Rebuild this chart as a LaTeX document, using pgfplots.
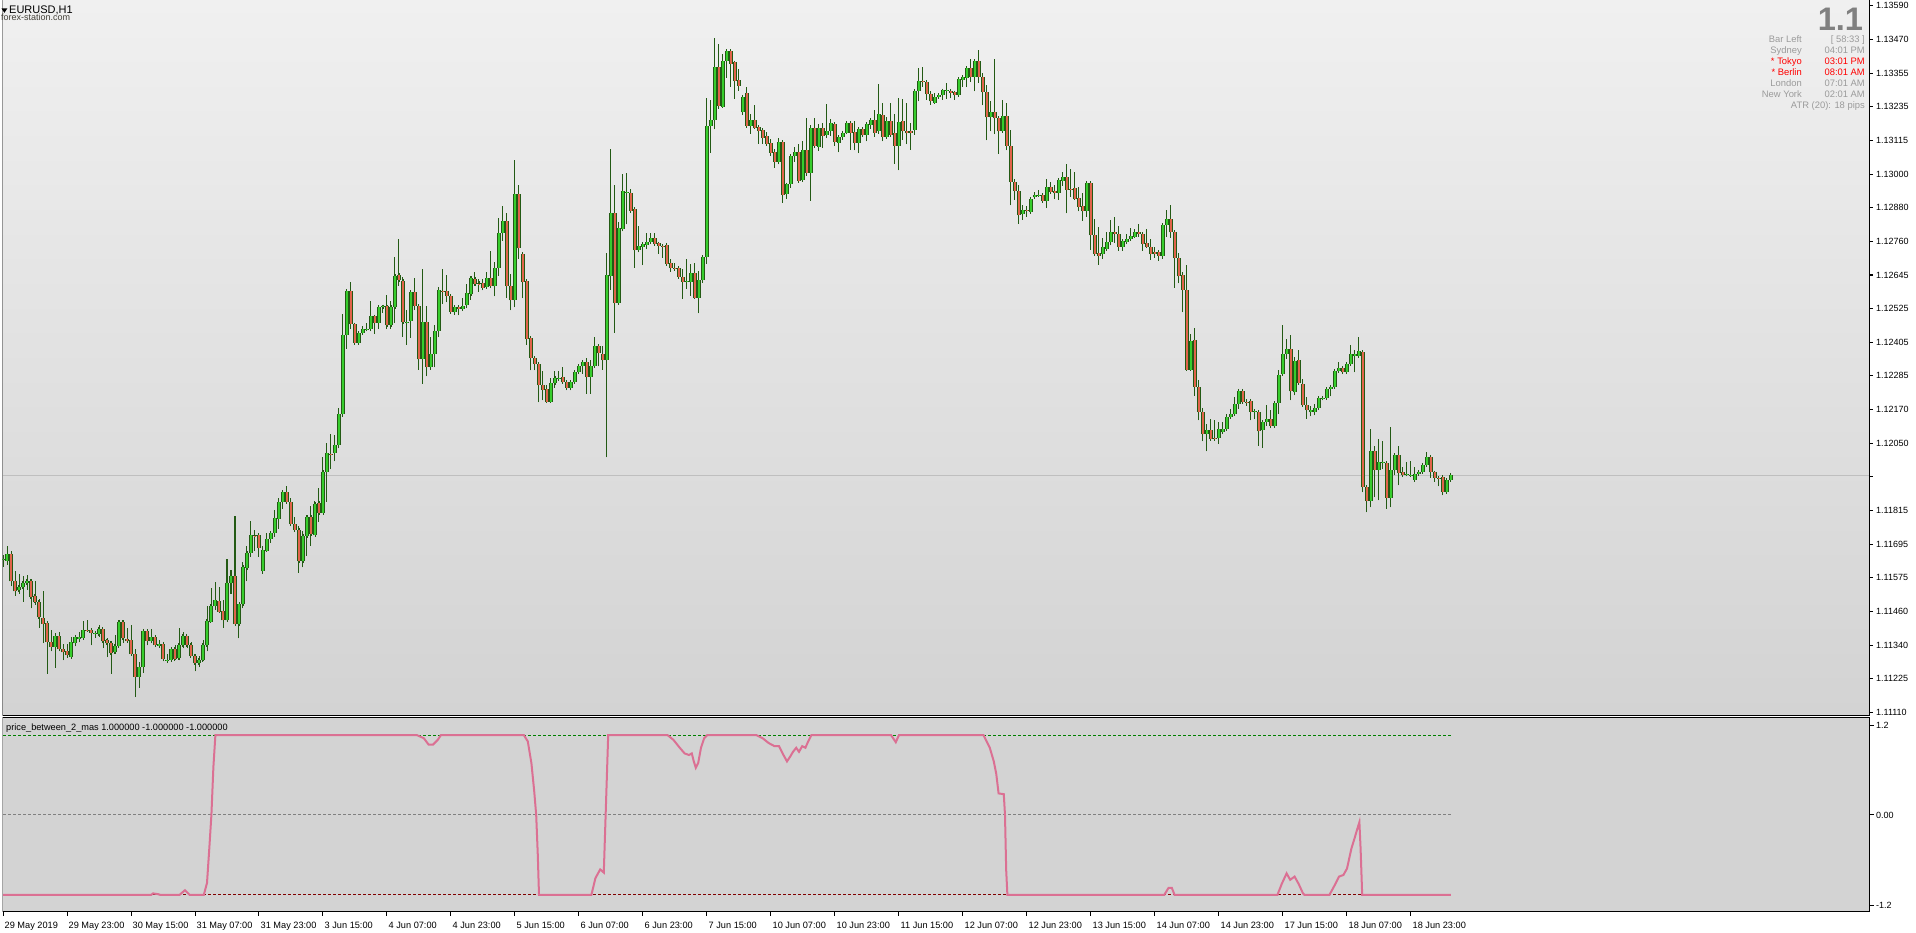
\documentclass[border=0pt]{standalone}
\usepackage{pgfplots}
\pgfplotsset{compat=1.18}
\usepackage{pgfplotstable}
\usepackage{fontspec}
\setmainfont{Liberation Sans}

\definecolor{cdark}{RGB}{35,90,20}
\definecolor{cbull}{RGB}{55,205,45}
\definecolor{cbear}{RGB}{225,100,75}
\definecolor{bgtop}{RGB}{240,240,240}
\definecolor{bgbot}{RGB}{211,211,211}
\definecolor{indbg}{RGB}{211,211,211}
\definecolor{cind}{RGB}{219,112,147}
\definecolor{infogray}{RGB}{155,155,155}
\definecolor{biggray}{RGB}{128,128,128}
\definecolor{lvgreen}{RGB}{0,128,0}
\definecolor{lvred}{RGB}{128,0,0}
\definecolor{lvgray}{RGB}{128,128,128}

\pgfplotstableread{
i o h l c
0 1.11646 1.11663 1.11622 1.11650
1 1.11643 1.11695 1.11628 1.11667
2 1.11667 1.11675 1.11552 1.11570
3 1.11572 1.11607 1.11519 1.11535
4 1.11538 1.11596 1.11526 1.11550
5 1.11549 1.11589 1.11499 1.11564
6 1.11564 1.11593 1.11540 1.11572
7 1.11572 1.11578 1.11475 1.11515
8 1.11518 1.11572 1.11488 1.11499
9 1.11498 1.11508 1.11406 1.11444
10 1.11442 1.11537 1.11353 1.11422
11 1.11425 1.11432 1.11245 1.11357
12 1.11358 1.11400 1.11324 1.11339
13 1.11339 1.11388 1.11266 1.11379
14 1.11379 1.11393 1.11324 1.11332
15 1.11332 1.11351 1.11293 1.11321
16 1.11325 1.11351 1.11301 1.11311
17 1.11304 1.11373 1.11304 1.11357
18 1.11353 1.11381 1.11342 1.11376
19 1.11366 1.11391 1.11356 1.11376
20 1.11371 1.11432 1.11367 1.11399
21 1.11399 1.11435 1.11394 1.11398
22 1.11399 1.11408 1.11345 1.11388
23 1.11385 1.11394 1.11371 1.11388
24 1.11385 1.11416 1.11374 1.11402
25 1.11402 1.11402 1.11336 1.11359
26 1.11363 1.11371 1.11304 1.11353
27 1.11353 1.11360 1.11245 1.11318
28 1.11321 1.11383 1.11315 1.11344
29 1.11342 1.11435 1.11342 1.11427
30 1.11427 1.11435 1.11353 1.11371
31 1.11369 1.11406 1.11356 1.11359
32 1.11364 1.11418 1.11312 1.11315
33 1.11315 1.11333 1.11164 1.11236
34 1.11236 1.11286 1.11196 1.11269
35 1.11269 1.11402 1.11250 1.11397
36 1.11395 1.11397 1.11345 1.11360
37 1.11359 1.11404 1.11353 1.11374
38 1.11374 1.11379 1.11342 1.11346
39 1.11344 1.11365 1.11339 1.11350
40 1.11351 1.11353 1.11289 1.11297
41 1.11292 1.11316 1.11283 1.11293
42 1.11294 1.11332 1.11291 1.11332
43 1.11332 1.11346 1.11295 1.11297
44 1.11300 1.11407 1.11293 1.11346
45 1.11346 1.11391 1.11335 1.11379
46 1.11379 1.11379 1.11335 1.11346
47 1.11346 1.11358 1.11307 1.11308
48 1.11309 1.11316 1.11254 1.11283
49 1.11283 1.11309 1.11269 1.11294
50 1.11293 1.11365 1.11289 1.11346
51 1.11345 1.11484 1.11324 1.11432
52 1.11429 1.11546 1.11427 1.11484
53 1.11482 1.11569 1.11470 1.11505
54 1.11502 1.11550 1.11464 1.11464
55 1.11467 1.11505 1.11408 1.11433
56 1.11433 1.11649 1.11433 1.11564
57 1.11564 1.11611 1.11525 1.11590
58 1.11590 1.11800 1.11420 1.11420
59 1.11420 1.11490 1.11370 1.11490
60 1.11490 1.11639 1.11475 1.11620
61 1.11617 1.11695 1.11570 1.11669
62 1.11669 1.11783 1.11657 1.11733
63 1.11730 1.11751 1.11678 1.11729
64 1.11733 1.11733 1.11657 1.11687
65 1.11605 1.11695 1.11597 1.11681
66 1.11678 1.11739 1.11678 1.11718
67 1.11718 1.11745 1.11706 1.11739
68 1.11739 1.11821 1.11727 1.11792
69 1.11788 1.11862 1.11754 1.11848
70 1.11848 1.11883 1.11825 1.11883
71 1.11883 1.11903 1.11844 1.11848
72 1.11848 1.11862 1.11763 1.11771
73 1.11771 1.11795 1.11743 1.11751
74 1.11751 1.11765 1.11601 1.11640
75 1.11640 1.11747 1.11619 1.11730
76 1.11730 1.11804 1.11660 1.11795
77 1.11795 1.11835 1.11695 1.11736
78 1.11732 1.11853 1.11732 1.11842
79 1.11844 1.11899 1.11780 1.11809
80 1.11809 1.12005 1.11809 1.11953
81 1.11953 1.12057 1.11850 1.12020
82 1.12017 1.12088 1.11964 1.12015
83 1.12020 1.12084 1.11991 1.12048
84 1.12048 1.12179 1.12037 1.12157
85 1.12157 1.12508 1.12148 1.12434
86 1.12434 1.12596 1.12387 1.12589
87 1.12589 1.12621 1.12455 1.12472
88 1.12472 1.12472 1.12401 1.12408
89 1.12406 1.12447 1.12403 1.12441
90 1.12441 1.12466 1.12436 1.12456
91 1.12455 1.12476 1.12447 1.12456
92 1.12455 1.12554 1.12447 1.12500
93 1.12500 1.12505 1.12438 1.12476
94 1.12476 1.12540 1.12455 1.12532
95 1.12532 1.12540 1.12513 1.12535
96 1.12535 1.12575 1.12455 1.12468
97 1.12468 1.12554 1.12455 1.12532
98 1.12532 1.12708 1.12476 1.12641
99 1.12644 1.12771 1.12608 1.12628
100 1.12625 1.12639 1.12429 1.12479
101 1.12479 1.12522 1.12401 1.12480
102 1.12482 1.12593 1.12425 1.12584
103 1.12584 1.12635 1.12522 1.12535
104 1.12535 1.12544 1.12312 1.12349
105 1.12350 1.12667 1.12263 1.12480
106 1.12480 1.12535 1.12289 1.12321
107 1.12321 1.12429 1.12312 1.12367
108 1.12367 1.12470 1.12321 1.12448
109 1.12448 1.12603 1.12427 1.12592
110 1.12588 1.12667 1.12543 1.12587
111 1.12588 1.12646 1.12549 1.12570
112 1.12572 1.12575 1.12514 1.12516
113 1.12515 1.12540 1.12505 1.12532
114 1.12532 1.12540 1.12503 1.12525
115 1.12525 1.12565 1.12521 1.12536
116 1.12538 1.12614 1.12528 1.12581
117 1.12578 1.12642 1.12559 1.12635
118 1.12630 1.12656 1.12608 1.12614
119 1.12615 1.12630 1.12587 1.12614
120 1.12616 1.12630 1.12591 1.12601
121 1.12602 1.12656 1.12601 1.12635
122 1.12635 1.12730 1.12599 1.12605
123 1.12605 1.12692 1.12570 1.12669
124 1.12669 1.12844 1.12643 1.12792
125 1.12792 1.12888 1.12766 1.12835
126 1.12835 1.12862 1.12566 1.12605
127 1.12607 1.12649 1.12521 1.12556
128 1.12556 1.13049 1.12531 1.12930
129 1.12930 1.12961 1.12701 1.12738
130 1.12718 1.12718 1.12563 1.12620
131 1.12623 1.12630 1.12400 1.12422
132 1.12423 1.12423 1.12310 1.12352
133 1.12353 1.12362 1.12310 1.12332
134 1.12332 1.12339 1.12198 1.12258
135 1.12259 1.12309 1.12205 1.12243
136 1.12245 1.12259 1.12198 1.12201
137 1.12201 1.12283 1.12201 1.12266
138 1.12266 1.12309 1.12250 1.12283
139 1.12284 1.12309 1.12274 1.12285
140 1.12287 1.12322 1.12266 1.12268
141 1.12269 1.12275 1.12240 1.12250
142 1.12250 1.12277 1.12240 1.12269
143 1.12269 1.12312 1.12263 1.12304
144 1.12304 1.12333 1.12297 1.12326
145 1.12324 1.12347 1.12298 1.12340
146 1.12340 1.12353 1.12228 1.12287
147 1.12287 1.12347 1.12228 1.12324
148 1.12324 1.12428 1.12318 1.12395
149 1.12395 1.12395 1.12324 1.12370
150 1.12369 1.12397 1.12312 1.12346
151 1.12346 1.12722 1.12005 1.12644
152 1.12640 1.13087 1.12593 1.12862
153 1.12862 1.12961 1.12443 1.12546
154 1.12546 1.12830 1.12546 1.12809
155 1.12806 1.13001 1.12798 1.12939
156 1.12934 1.13003 1.12823 1.12935
157 1.12932 1.12947 1.12864 1.12871
158 1.12876 1.12876 1.12671 1.12731
159 1.12731 1.12817 1.12724 1.12747
160 1.12745 1.12756 1.12680 1.12753
161 1.12751 1.12791 1.12736 1.12760
162 1.12760 1.12791 1.12753 1.12774
163 1.12774 1.12791 1.12753 1.12753
164 1.12756 1.12762 1.12719 1.12748
165 1.12747 1.12754 1.12706 1.12746
166 1.12751 1.12751 1.12678 1.12685
167 1.12686 1.12700 1.12657 1.12669
168 1.12669 1.12686 1.12660 1.12668
169 1.12669 1.12673 1.12636 1.12639
170 1.12639 1.12666 1.12561 1.12622
171 1.12624 1.12701 1.12596 1.12625
172 1.12622 1.12684 1.12573 1.12651
173 1.12651 1.12687 1.12566 1.12566
174 1.12566 1.12659 1.12510 1.12627
175 1.12627 1.12715 1.12618 1.12707
176 1.12707 1.13265 1.12685 1.13167
177 1.13167 1.13258 1.13074 1.13188
178 1.13188 1.13475 1.13156 1.13374
179 1.13374 1.13455 1.13229 1.13239
180 1.13236 1.13420 1.13232 1.13395
181 1.13395 1.13434 1.13337 1.13431
182 1.13431 1.13438 1.13306 1.13386
183 1.13391 1.13393 1.13263 1.13327
184 1.13329 1.13368 1.13292 1.13309
185 1.13216 1.13274 1.13206 1.13271
186 1.13282 1.13305 1.13167 1.13167
187 1.13169 1.13210 1.13141 1.13189
188 1.13189 1.13241 1.13160 1.13162
189 1.13164 1.13166 1.13105 1.13150
190 1.13153 1.13153 1.13106 1.13127
191 1.13133 1.13146 1.13099 1.13106
192 1.13107 1.13122 1.13064 1.13074
193 1.13077 1.13087 1.13022 1.13043
194 1.13043 1.13125 1.13033 1.13111
195 1.13111 1.13113 1.12899 1.12926
196 1.12928 1.12967 1.12913 1.12963
197 1.12963 1.13066 1.12952 1.13063
198 1.13061 1.13093 1.13043 1.13075
199 1.13077 1.13105 1.12969 1.12975
200 1.12977 1.13115 1.12977 1.13083
201 1.13083 1.13195 1.12994 1.13004
202 1.13004 1.13171 1.12906 1.13160
203 1.13160 1.13195 1.13090 1.13099
204 1.13095 1.13175 1.13081 1.13160
205 1.13160 1.13177 1.13092 1.13134
206 1.13136 1.13244 1.13125 1.13151
207 1.13151 1.13191 1.13134 1.13177
208 1.13174 1.13181 1.13099 1.13111
209 1.13108 1.13137 1.13075 1.13129
210 1.13129 1.13152 1.13119 1.13145
211 1.13145 1.13181 1.13139 1.13178
212 1.13178 1.13186 1.13084 1.13145
213 1.13146 1.13186 1.13082 1.13108
214 1.13108 1.13160 1.13073 1.13157
215 1.13157 1.13161 1.13129 1.13135
216 1.13137 1.13181 1.13114 1.13174
217 1.13172 1.13193 1.13157 1.13189
218 1.13189 1.13225 1.13131 1.13145
219 1.13149 1.13316 1.13140 1.13210
220 1.13207 1.13250 1.13114 1.13129
221 1.13128 1.13198 1.13123 1.13186
222 1.13186 1.13250 1.13131 1.13137
223 1.13143 1.13210 1.13035 1.13099
224 1.13099 1.13267 1.13012 1.13181
225 1.13186 1.13262 1.13119 1.13149
226 1.13151 1.13250 1.13104 1.13142
227 1.13151 1.13180 1.13084 1.13142
228 1.13153 1.13291 1.13137 1.13291
229 1.13291 1.13372 1.13254 1.13325
230 1.13324 1.13375 1.13306 1.13322
231 1.13322 1.13325 1.13260 1.13280
232 1.13280 1.13289 1.13242 1.13254
233 1.13250 1.13283 1.13250 1.13269
234 1.13268 1.13285 1.13263 1.13276
235 1.13276 1.13299 1.13260 1.13293
236 1.13293 1.13320 1.13264 1.13294
237 1.13291 1.13299 1.13265 1.13285
238 1.13286 1.13292 1.13260 1.13275
239 1.13275 1.13341 1.13275 1.13332
240 1.13331 1.13345 1.13306 1.13339
241 1.13336 1.13376 1.13304 1.13371
242 1.13371 1.13403 1.13322 1.13339
243 1.13339 1.13400 1.13289 1.13395
244 1.13395 1.13435 1.13320 1.13339
245 1.13339 1.13353 1.13240 1.13286
246 1.13286 1.13312 1.13117 1.13198
247 1.13198 1.13254 1.13149 1.13216
248 1.13216 1.13403 1.13139 1.13195
249 1.13195 1.13195 1.13071 1.13149
250 1.13149 1.13260 1.13149 1.13202
251 1.13202 1.13248 1.13082 1.13099
252 1.13099 1.13154 1.12889 1.12971
253 1.12971 1.12981 1.12909 1.12940
254 1.12940 1.12960 1.12824 1.12854
255 1.12859 1.12890 1.12839 1.12873
256 1.12872 1.12888 1.12850 1.12871
257 1.12866 1.12915 1.12865 1.12911
258 1.12917 1.12936 1.12912 1.12925
259 1.12925 1.12944 1.12921 1.12926
260 1.12925 1.12932 1.12903 1.12904
261 1.12904 1.12981 1.12880 1.12953
262 1.12953 1.12972 1.12930 1.12938
263 1.12940 1.12961 1.12911 1.12932
264 1.12931 1.12978 1.12909 1.12978
265 1.12976 1.13005 1.12959 1.12988
266 1.12988 1.13035 1.12861 1.12945
267 1.12948 1.13017 1.12920 1.12947
268 1.12950 1.13005 1.12911 1.12913
269 1.12915 1.12955 1.12868 1.12885
270 1.12888 1.12934 1.12836 1.12868
271 1.12871 1.12967 1.12850 1.12967
272 1.12967 1.12967 1.12733 1.12784
273 1.12786 1.12842 1.12712 1.12719
274 1.12722 1.12813 1.12681 1.12713
275 1.12717 1.12774 1.12702 1.12743
276 1.12737 1.12795 1.12731 1.12760
277 1.12760 1.12839 1.12749 1.12795
278 1.12795 1.12848 1.12759 1.12788
279 1.12788 1.12818 1.12730 1.12745
280 1.12745 1.12771 1.12730 1.12765
281 1.12762 1.12789 1.12753 1.12772
282 1.12771 1.12809 1.12766 1.12781
283 1.12780 1.12806 1.12777 1.12795
284 1.12795 1.12825 1.12780 1.12788
285 1.12788 1.12788 1.12730 1.12753
286 1.12757 1.12807 1.12742 1.12745
287 1.12745 1.12771 1.12698 1.12718
288 1.12725 1.12742 1.12706 1.12718
289 1.12725 1.12728 1.12695 1.12712
290 1.12711 1.12823 1.12702 1.12820
291 1.12820 1.12874 1.12778 1.12841
292 1.12841 1.12891 1.12775 1.12795
293 1.12795 1.12795 1.12601 1.12704
294 1.12704 1.12722 1.12616 1.12640
295 1.12644 1.12656 1.12514 1.12593
296 1.12593 1.12681 1.12310 1.12313
297 1.12313 1.12438 1.12313 1.12414
298 1.12417 1.12459 1.12221 1.12252
299 1.12252 1.12277 1.12135 1.12164
300 1.12166 1.12178 1.12061 1.12087
301 1.12087 1.12122 1.12026 1.12102
302 1.12101 1.12139 1.12069 1.12069
303 1.12072 1.12137 1.12069 1.12070
304 1.12072 1.12130 1.12053 1.12104
305 1.12094 1.12129 1.12090 1.12104
306 1.12104 1.12157 1.12104 1.12148
307 1.12147 1.12175 1.12142 1.12157
308 1.12157 1.12217 1.12157 1.12192
309 1.12192 1.12239 1.12175 1.12239
310 1.12239 1.12245 1.12196 1.12198
311 1.12201 1.12211 1.12186 1.12200
312 1.12204 1.12207 1.12135 1.12166
313 1.12166 1.12175 1.12139 1.12167
314 1.12164 1.12169 1.12046 1.12096
315 1.12100 1.12137 1.12038 1.12130
316 1.12128 1.12190 1.12116 1.12140
317 1.12140 1.12172 1.12108 1.12116
318 1.12114 1.12199 1.12108 1.12196
319 1.12196 1.12310 1.12157 1.12294
320 1.12297 1.12470 1.12297 1.12367
321 1.12367 1.12421 1.12350 1.12385
322 1.12385 1.12435 1.12205 1.12237
323 1.12233 1.12356 1.12223 1.12344
324 1.12346 1.12383 1.12260 1.12266
325 1.12264 1.12281 1.12184 1.12188
326 1.12189 1.12217 1.12140 1.12171
327 1.12164 1.12184 1.12149 1.12171
328 1.12164 1.12193 1.12152 1.12178
329 1.12178 1.12217 1.12172 1.12213
330 1.12212 1.12217 1.12205 1.12213
331 1.12213 1.12248 1.12210 1.12245
332 1.12245 1.12260 1.12219 1.12252
333 1.12251 1.12309 1.12246 1.12309
334 1.12307 1.12340 1.12303 1.12318
335 1.12318 1.12327 1.12297 1.12303
336 1.12303 1.12336 1.12297 1.12332
337 1.12332 1.12398 1.12330 1.12369
338 1.12360 1.12383 1.12303 1.12369
339 1.12360 1.12427 1.12357 1.12379
340 1.12375 1.12379 1.11882 1.11900
341 1.11901 1.11901 1.11812 1.11852
342 1.11852 1.12106 1.11830 1.12029
343 1.12029 1.12046 1.11865 1.11960
344 1.11960 1.12071 1.11854 1.11990
345 1.11989 1.12064 1.11964 1.11990
346 1.11985 1.11989 1.11824 1.11863
347 1.11863 1.12113 1.11830 1.11961
348 1.11961 1.12017 1.11942 1.12013
349 1.12013 1.12046 1.11907 1.11950
350 1.11954 1.11970 1.11936 1.11943
351 1.11947 1.11989 1.11938 1.11948
352 1.11943 1.11993 1.11938 1.11944
353 1.11926 1.11971 1.11923 1.11948
354 1.11947 1.11956 1.11947 1.11954
355 1.11954 1.11983 1.11950 1.11979
356 1.11979 1.12024 1.11976 1.12007
357 1.12007 1.12013 1.11933 1.11952
358 1.11952 1.11955 1.11919 1.11933
359 1.11934 1.11936 1.11903 1.11933
360 1.11936 1.11944 1.11872 1.11884
361 1.11882 1.11929 1.11877 1.11926
362 1.11925 1.11948 1.11920 1.11943
}\candles

\begin{document}
\begin{tikzpicture}[x=1pt,y=1pt]
\useasboundingbox (0,0) rectangle (1916,-933);
\fill[white] (0,0) rectangle (1916,-933);

% ---------------- main price panel ----------------
\begin{axis}[
  at={(2.5pt,0pt)}, anchor=north west, scale only axis,
  width=1867.5pt, height=715pt,
  xmin=-0.125, xmax=466.75, ymin=1.11101, ymax=1.13610,
  axis line style={draw=none},
  axis background/.style={shade, top color=bgtop, bottom color=bgbot},
  xtick=\empty,
  ytick={1.11110,1.11228,1.11346,1.11464,1.11582,1.11700,1.11819,1.11937,1.12055,1.12173,1.12291,1.12409,1.12527,1.12645,1.12763,1.12881,1.12999,1.13117,1.13235,1.13353,1.13472,1.13590},
  yticklabels={1.11110,1.11225,1.11340,1.11460,1.11575,1.11695,1.11815,,1.12050,1.12170,1.12285,1.12405,1.12525,1.12645,1.12760,1.12880,1.13000,1.13115,1.13235,1.13355,1.13470,1.13590},
  ytick pos=right, yticklabel pos=right, tick align=outside,
  major tick length=3pt, tick style={black, line width=1pt},
  yticklabel style={font=\fontsize{9}{10}\selectfont, inner sep=0pt, anchor=west, xshift=3pt},
]
\addplot[color=black!25, line width=1pt] coordinates {(-0.125,1.11943) (466.75,1.11943)};
% wicks
\addplot[draw=none, mark=none, error bars/.cd, y dir=plus, y explicit, error mark=none,
  error bar style={draw=cdark, line width=1pt}]
  table[x=i, y=l, y error expr=\thisrow{h}-\thisrow{l}] {\candles};
% body outlines
\addplot[draw=none, mark=none, error bars/.cd, y dir=both, y explicit, error mark=-,
  error mark options={draw=cdark, line width=1pt, mark size=1.8pt},
  error bar style={draw=cdark, line width=3.6pt}]
  table[x=i, y expr={min(\thisrow{o},\thisrow{c})}, y error plus expr={abs(\thisrow{c}-\thisrow{o})}, y error minus expr=0] {\candles};
% bull fill
\addplot[draw=none, mark=none, restrict expr to domain={\thisrow{c}-\thisrow{o}}{0:1},
  error bars/.cd, y dir=plus, y explicit, error mark=none,
  error bar style={draw=cbull, line width=2pt}]
  table[x=i, y=o, y error expr=\thisrow{c}-\thisrow{o}] {\candles};
% bear fill
\addplot[draw=none, mark=none, restrict expr to domain={\thisrow{o}-\thisrow{c}}{0:1},
  error bars/.cd, y dir=plus, y explicit, error mark=none,
  error bar style={draw=cbear, line width=2pt}]
  table[x=i, y=c, y error expr=\thisrow{o}-\thisrow{c}] {\candles};
\draw[black, line width=1pt] (rel axis cs:0,1) -- (rel axis cs:0,0) -- (rel axis cs:1,0) -- (rel axis cs:1,1);
\node[fill=black, text=white, font=\fontsize{9}{10}\selectfont, inner xsep=3.5pt, inner ysep=1.6pt, anchor=west, xshift=1.5pt] at (axis cs:466.75,1.11943) {1.11943};
\end{axis}

% ---------------- indicator panel ----------------
\begin{axis}[
  at={(2.5pt,-717pt)}, anchor=north west, scale only axis,
  width=1867.5pt, height=194.7pt,
  xmin=-0.125, xmax=466.75, ymin=-1.209, ymax=1.225,
  axis line style={draw=none},
  axis background/.style={fill=indbg},
  xtick={0,16,...,352},
  xticklabels={29 May 2019,29 May 23:00,30 May 15:00,31 May 07:00,31 May 23:00,3 Jun 15:00,4 Jun 07:00,4 Jun 23:00,5 Jun 15:00,6 Jun 07:00,6 Jun 23:00,7 Jun 15:00,10 Jun 07:00,10 Jun 23:00,11 Jun 15:00,12 Jun 07:00,12 Jun 23:00,13 Jun 15:00,14 Jun 07:00,14 Jun 23:00,17 Jun 15:00,18 Jun 07:00,18 Jun 23:00},
  xtick pos=bottom, xticklabel pos=bottom,
  ytick={-1.134,0,1.125}, yticklabels={-1.2,0.00,1.2},
  ytick pos=right, yticklabel pos=right, tick align=outside,
  major tick length=4pt, tick style={black, line width=1pt},
  xticklabel style={font=\fontsize{9.2}{10}\selectfont, inner sep=0pt, anchor=north west, xshift=1.5pt, yshift=-6pt},
  yticklabel style={font=\fontsize{9}{10}\selectfont, inner sep=0pt, anchor=west, xshift=2pt},
]
\addplot[lvgreen, line width=1pt, dash pattern=on 3pt off 2pt] coordinates {(0,1) (362,1)};
\addplot[lvgray, line width=1pt, dash pattern=on 3pt off 2pt] coordinates {(0,0) (362,0)};
\addplot[lvred, line width=1pt, dash pattern=on 3pt off 2pt] coordinates {(0,-1) (362,-1)};
\addplot[cind, line width=2pt] coordinates {
(0,-1) (37,-1) (37.5,-0.98) (38.8,-0.99) (39.4,-1) (44.1,-1) (45.5,-0.94) (46.7,-1) (50.2,-1) (51,-0.85) (51.6,-0.4) (52.1,0) (52.6,0.6) (53.1,1) (103.4,1) (105.2,0.96) (106.4,0.88) (107.5,0.88) (108.7,0.94) (109.5,1) (130.2,1) (131.2,0.92) (132.1,0.65) (132.8,0.3) (133.3,0) (133.7,-0.5) (134,-1) (147.1,-1) (148.1,-0.79) (149.3,-0.68) (150.2,-0.72) (151.3,1) (166.1,1) (167.6,0.94) (169.2,0.84) (170.4,0.77) (171.5,0.75) (172.2,0.77) (172.7,0.67) (173.2,0.59) (173.8,0.65) (174.5,0.84) (175.3,0.96) (176.1,1) (188.3,1) (189.9,0.96) (191.4,0.9) (192.9,0.86) (194,0.86) (194.9,0.77) (196,0.67) (196.8,0.73) (197.5,0.79) (198.3,0.84) (199,0.79) (199.8,0.86) (200.6,0.84) (201.3,0.92) (202.1,1) (222,1) (222.8,0.94) (223.2,0.91) (224,1) (245.1,1) (246.7,0.84) (247.7,0.67) (248.3,0.52) (248.9,0.27) (250.2,0.26) (250.5,0) (250.8,-0.69) (251.1,-1) (290.3,-1) (291.4,-0.91) (292.2,-0.91) (292.9,-1) (318.6,-1) (319.7,-0.86) (320.9,-0.73) (321.8,-0.81) (322.9,-0.77) (323.9,-0.86) (325,-0.98) (325.4,-1) (331.6,-1) (332.9,-0.88) (334,-0.77) (335.1,-0.75) (336,-0.67) (337.1,-0.42) (337.9,-0.29) (338.6,-0.17) (339.1,-0.09) (339.4,-0.42) (339.8,-1) (362,-1)};
\draw[black, line width=1pt] (rel axis cs:0,0) rectangle (rel axis cs:1,1);
\end{axis}

% ---------------- texts ----------------
\fill[black] (1.5,-8.5) -- (7.3,-8.5) -- (4.4,-12.8) -- cycle;
\node[anchor=base west, inner sep=0pt, font=\fontsize{11}{12}\selectfont] at (9,-13.3) {EURUSD,H1};
\node[anchor=base west, inner sep=0pt, font=\fontsize{9}{10}\selectfont, text=black!85!yellow] at (1,-20.3) {forex-station.com};
\node[anchor=base west, inner sep=0pt, font=\fontsize{9.2}{10}\selectfont] at (6,-730.5) {price\_between\_2\_mas 1.000000 -1.000000 -1.000000};

\node[anchor=base east, inner sep=0pt, font=\fontsize{32.6}{34}\selectfont\bfseries, text=biggray] at (1863.3,-30.7) {1.1};
\begin{scope}[every node/.style={inner sep=0pt, font=\fontsize{9.4}{10}\selectfont, text=infogray}]
\node[anchor=base east] at (1802,-42.3) {Bar Left};
\node[anchor=base east] at (1865,-42.3) {[ 58:33 ]};
\node[anchor=base east] at (1802,-53.3) {Sydney};
\node[anchor=base east] at (1865,-53.3) {04:01 PM};
\node[anchor=base east, text=red] at (1802,-64.3) {* Tokyo};
\node[anchor=base east, text=red] at (1865,-64.3) {03:01 PM};
\node[anchor=base east, text=red] at (1802,-75.3) {* Berlin};
\node[anchor=base east, text=red] at (1865,-75.3) {08:01 AM};
\node[anchor=base east] at (1802,-86.3) {London};
\node[anchor=base east] at (1865,-86.3) {07:01 AM};
\node[anchor=base east] at (1802,-97.3) {New York};
\node[anchor=base east] at (1865,-97.3) {02:01 AM};
\node[anchor=base east] at (1865,-108.3) {ATR (20): 18 pips};
\end{scope}
\end{tikzpicture}
\end{document}
